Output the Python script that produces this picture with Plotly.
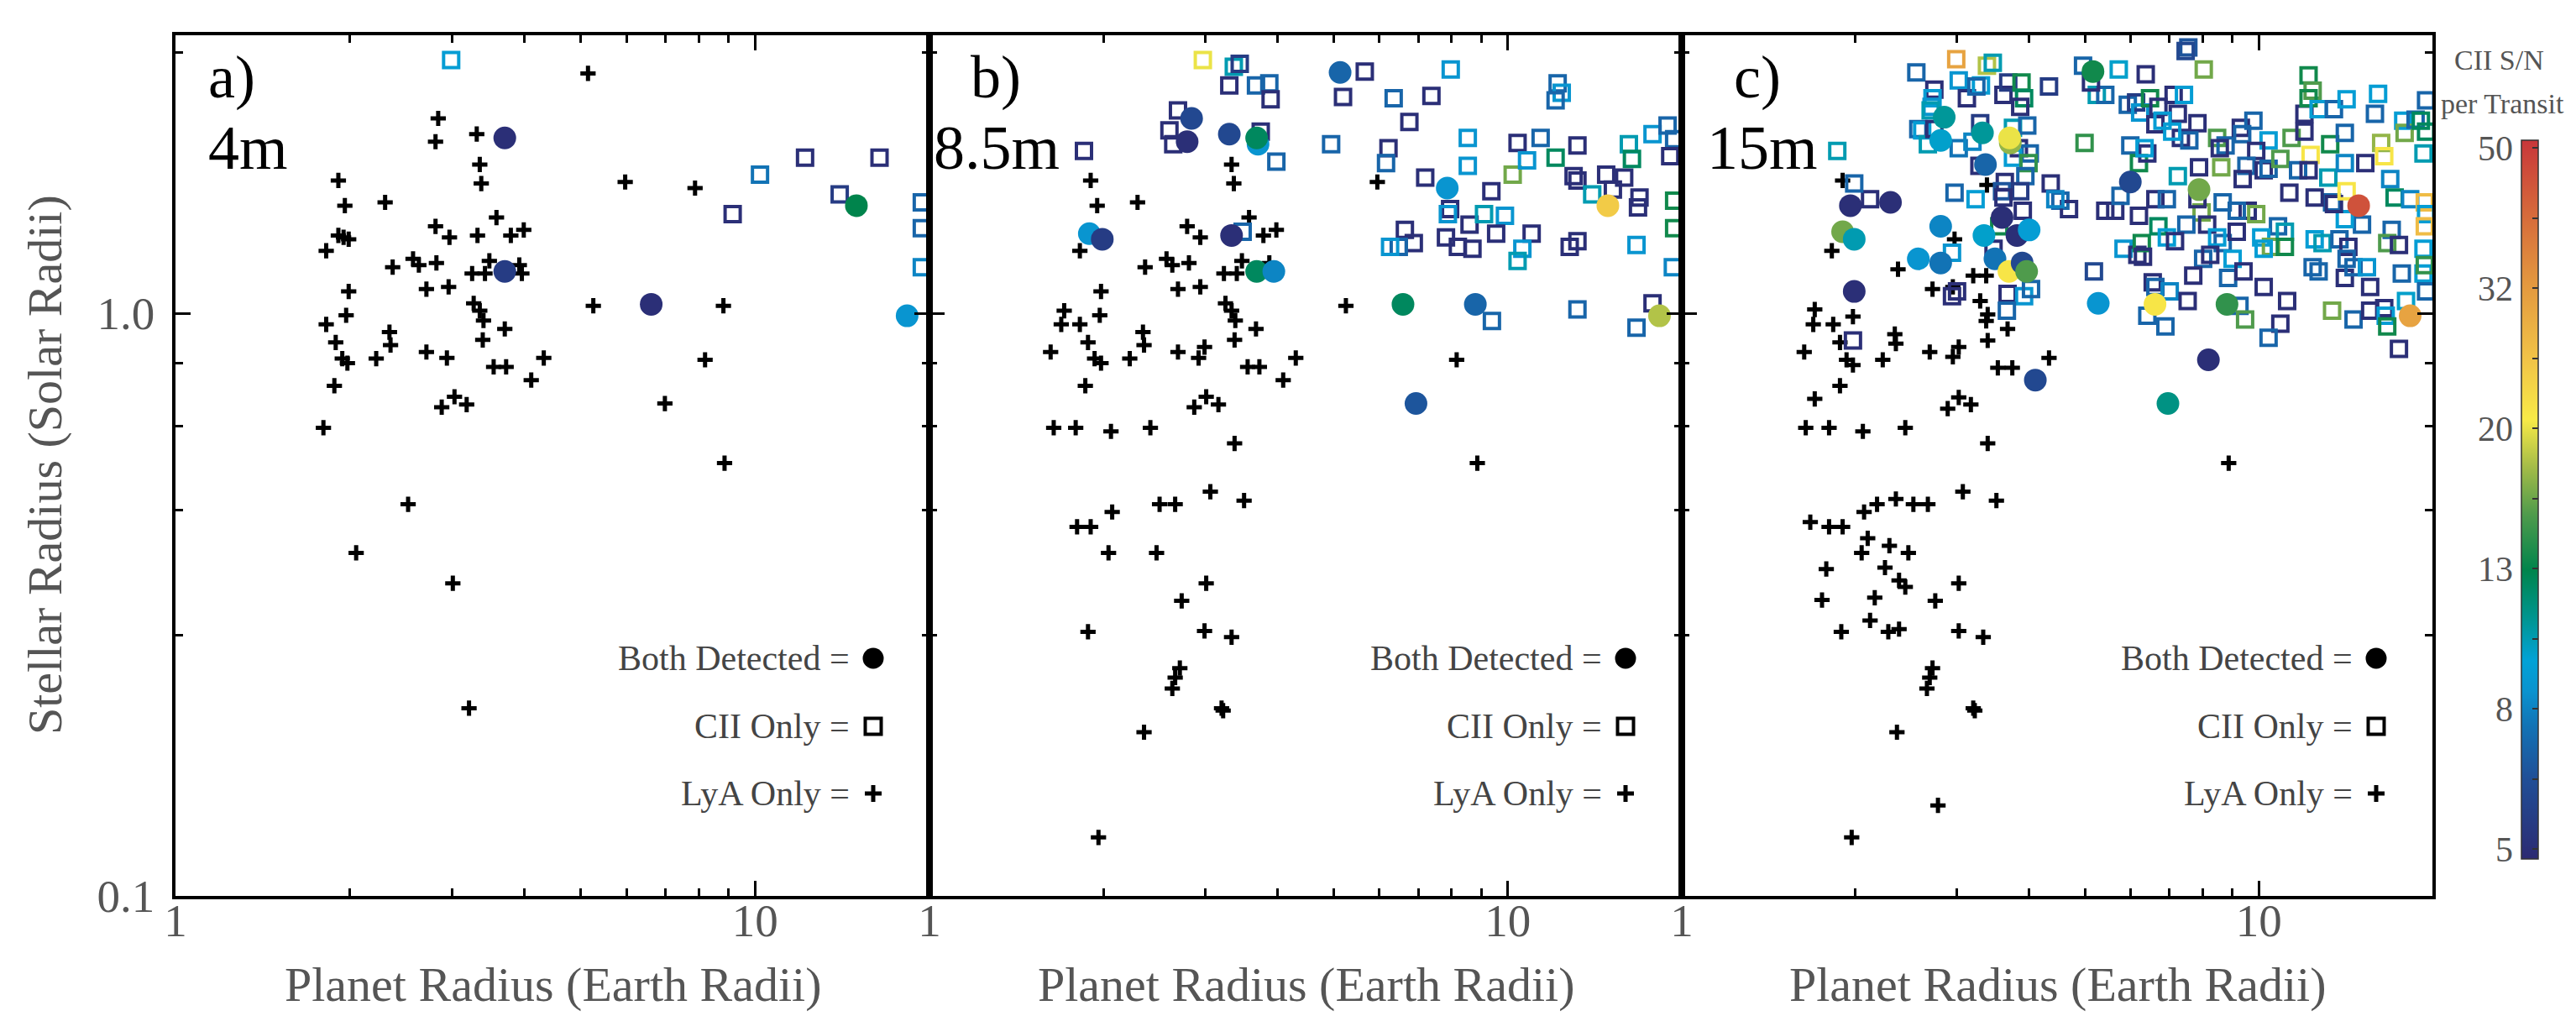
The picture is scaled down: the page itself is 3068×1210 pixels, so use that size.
import numpy as np
import plotly.graph_objects as go

# ---------------- panel a) 4m ----------------
a_both_x = [3.70, 3.70, 6.62, 14.96, 18.3]
a_both_y = [2.00, 1.18, 1.036, 1.53, 0.99]
a_both_sn = [5, 5.5, 5, 12.5, 8.5]

a_cii_x = [2.99, 9.15, 10.2, 12.2, 16.4, 14.0, 19.4, 19.4, 19.4]
a_cii_y = [2.72, 1.48, 1.73, 1.85, 1.85, 1.60, 1.55, 1.40, 1.20]
a_cii_sn = [9, 5, 7.5, 5, 5, 5.5, 7, 7, 8]

a_lya_x = [5.15, 2.84, 2.81, 3.31, 3.35, 3.37, 1.91, 1.96, 2.30, 5.97,
           7.88, 3.58, 2.81, 2.97, 3.32, 3.79, 3.99, 1.91, 1.95, 1.99,
           1.82, 2.57, 2.63, 2.82, 2.37, 3.48, 3.25, 3.42, 3.92, 3.96,
           1.99, 2.71, 2.96, 3.27, 3.35, 3.40, 1.97, 1.82, 3.70, 1.89,
           2.34, 2.35, 3.39, 1.94, 1.98, 2.22, 2.71, 2.94, 4.32, 3.54,
           3.72, 4.11, 1.88, 3.03, 2.88, 3.18, 8.20, 6.99, 5.26, 8.82,
           1.80, 8.86, 2.52, 2.05, 3.01, 3.21]
a_lya_y = [2.58, 2.16, 1.97, 2.03, 1.80, 1.67, 1.69, 1.53, 1.55, 1.68,
           1.64, 1.46, 1.41, 1.35, 1.36, 1.36, 1.39, 1.36, 1.35, 1.34,
           1.28, 1.24, 1.21, 1.22, 1.20, 1.23, 1.17, 1.17, 1.21, 1.17,
           1.09, 1.10, 1.11, 1.04, 1.01, 0.972, 0.992, 0.957, 0.940, 0.891,
           0.928, 0.882, 0.900, 0.836, 0.821, 0.836, 0.858, 0.838, 0.838, 0.809,
           0.809, 0.768, 0.751, 0.719, 0.690, 0.697, 0.832, 0.700, 1.03, 1.03,
           0.636, 0.553, 0.470, 0.388, 0.344, 0.210]

# ---------------- panel b) 8.5m ----------------
b_both_x = [5.13, 2.84, 2.79, 3.30, 3.70, 3.68, 1.89, 1.99, 3.33, 3.68,
            3.94, 7.86, 14.9, 6.59, 8.79, 6.94, 18.3]
b_both_y = [2.59, 2.16, 1.97, 2.03, 1.95, 2.00, 1.37, 1.34, 1.36, 1.18,
            1.18, 1.64, 1.53, 1.036, 1.036, 0.70, 0.99]
b_both_sn = [7, 6, 5, 6, 8.5, 12, 8.5, 5.5, 5, 12,
             8, 8.5, 24, 12, 7, 6.5, 18]

b_cii_x = [2.97, 3.36, 3.44, 3.30, 3.67, 3.87, 3.89, 2.69, 2.60, 2.64,
           3.74, 3.98, 1.85, 5.66, 5.19, 6.35, 7.38, 7.97, 6.76, 4.95,
           6.22, 6.16, 7.20, 8.53, 8.53, 9.37, 7.95, 7.88, 8.59, 7.82,
           8.20, 8.69, 6.64, 6.88, 6.48, 6.26, 9.10, 9.89, 9.55, 10.2,
           10.4, 10.8, 11.4, 12.1, 12.2, 12.4, 12.1, 13.2, 13.0, 13.2,
           14.0, 14.8, 15.2, 15.9, 16.9, 16.8, 16.2, 16.4, 17.8, 18.9,
           19.4, 19.1, 19.4, 19.4, 19.3, 11.0, 10.6, 10.4, 12.8, 13.2,
           16.7, 13.2, 9.39, 16.7, 17.8, 3.48]
b_cii_y = [2.72, 2.65, 2.68, 2.46, 2.46, 2.48, 2.33, 2.23, 2.06, 1.95,
           2.05, 1.82, 1.90, 2.60, 2.35, 2.34, 2.36, 2.62, 2.13, 1.95,
           1.92, 1.81, 1.71, 2.00, 1.79, 1.62, 1.51, 1.48, 1.42, 1.35,
           1.30, 1.29, 1.39, 1.32, 1.30, 1.30, 1.48, 1.47, 1.37, 1.73,
           1.96, 1.83, 2.00, 1.85, 2.48, 2.39, 2.32, 1.94, 1.72, 1.69,
           1.60, 1.73, 1.63, 1.71, 1.58, 1.52, 1.95, 1.84, 2.03, 2.10,
           1.99, 1.86, 1.56, 1.40, 1.20, 1.37, 1.29, 1.23, 1.30, 1.33,
           1.31, 1.015, 0.970, 0.945, 1.04, 1.38]
b_cii_sn = [20, 10, 5.5, 5, 7, 7, 5, 5, 5, 5,
            5, 7, 5, 5, 5, 7, 5, 8.5, 5, 7,
            5, 7, 5, 8.5, 8.5, 5, 5, 8.5, 5, 5,
            5, 5, 5, 5, 7, 8.5, 10, 8.5, 5, 16,
            5, 8.5, 7, 12, 7, 8.5, 7, 5, 5, 5,
            10, 5, 5, 5, 5, 5, 10, 12, 8.5, 7,
            7, 5, 13, 13, 8, 5, 8.5, 10, 5, 5,
            8.5, 7, 7, 7, 5, 7]

b_lya_x = [3.33, 3.36, 1.90, 1.95, 2.29, 5.95, 3.57, 2.79, 2.94, 3.78,
           3.98, 1.82, 2.57, 2.63, 2.81, 2.36, 3.47, 3.23, 3.40, 1.98,
           2.69, 2.94, 3.25, 3.33, 3.38, 1.97, 1.71, 1.69, 1.82, 3.67,
           1.88, 2.34, 2.35, 3.37, 1.62, 1.93, 1.98, 2.22, 2.69, 2.92,
           2.99, 4.30, 3.55, 3.72, 4.09, 1.86, 3.01, 2.87, 3.16, 8.16,
           5.25, 1.64, 1.79, 2.06, 2.41, 3.37, 8.86, 3.06, 2.50, 2.66,
           3.50, 2.07, 1.80, 1.90, 2.04, 2.47, 3.01, 2.73, 1.88, 2.99,
           3.33, 2.71, 2.66, 2.63, 3.20, 3.22, 2.35, 1.96, 3.87]
b_lya_y = [1.80, 1.67, 1.69, 1.53, 1.55, 1.68, 1.46, 1.41, 1.35, 1.36,
           1.39, 1.28, 1.24, 1.21, 1.22, 1.20, 1.23, 1.17, 1.17, 1.09,
           1.10, 1.11, 1.04, 1.01, 0.972, 0.992, 1.01, 0.957, 0.957, 0.940,
           0.891, 0.928, 0.882, 0.900, 0.858, 0.836, 0.821, 0.836, 0.858, 0.838,
           0.875, 0.838, 0.809, 0.809, 0.768, 0.751, 0.719, 0.690, 0.697, 0.832,
           1.03, 0.636, 0.636, 0.627, 0.636, 0.598, 0.553, 0.494, 0.470, 0.470,
           0.477, 0.456, 0.430, 0.430, 0.388, 0.388, 0.344, 0.321, 0.284, 0.285,
           0.278, 0.246, 0.237, 0.227, 0.210, 0.208, 0.191, 0.126, 1.22]

# ---------------- panel c) 15m ----------------
c_both_x = [5.16, 2.85, 2.81, 3.32, 3.71, 3.70, 3.36, 1.96, 2.30, 1.90,
            1.99, 2.81, 3.34, 3.59, 3.81, 4.00, 2.57, 2.81, 3.49, 3.69,
            3.89, 3.96, 1.99, 5.99, 5.27, 7.88, 14.9, 18.3, 8.81, 6.61,
            8.18, 6.96, 4.10]
c_both_y = [2.60, 2.17, 1.98, 2.04, 1.96, 2.00, 1.80, 1.53, 1.55, 1.38,
            1.34, 1.41, 1.36, 1.46, 1.36, 1.39, 1.24, 1.22, 1.24, 1.18,
            1.22, 1.18, 1.09, 1.68, 1.04, 1.63, 1.53, 0.99, 1.036, 1.036,
            0.832, 0.70, 0.768]
c_both_sn = [13, 10.5, 9.5, 10.5, 17, 20, 7, 5, 5, 16,
             10, 8, 9.5, 5, 5, 9, 8.5, 7.5, 7.5, 21,
             6, 15, 5, 6, 8.5, 16, 45, 30, 14, 21,
             5, 11, 6]

c_cii_x = [2.99, 3.38, 3.46, 2.55, 3.02, 2.74, 2.72, 2.71, 2.70, 3.12,
           3.30, 3.24, 3.61, 3.68, 3.88, 3.92, 3.86, 4.33, 2.57, 2.61,
           2.67, 2.74, 3.02, 3.19, 3.29, 3.75, 3.97, 3.84, 4.01, 3.75,
           3.99, 3.28, 3.94, 3.63, 3.59, 3.86, 2.97, 3.23, 3.61, 4.36,
           4.53, 4.69, 4.44, 3.90, 2.12, 1.99, 1.86, 4.99, 4.96, 5.24,
           5.42, 5.72, 5.93, 6.13, 6.23, 5.99, 6.20, 5.42, 5.64, 5.76,
           6.20, 5.83, 6.16, 6.27, 5.18, 2.94, 3.47, 3.00, 2.94, 3.67,
           3.92, 4.03, 3.55, 5.12, 1.98, 3.66,
           7.55, 7.47, 8.03, 6.37, 6.48, 6.70, 7.12, 7.42, 7.24, 6.62,
           6.81, 7.83, 7.33, 7.58, 7.08, 6.41, 6.34, 7.24, 7.88, 8.61,
           8.47, 8.76, 8.56, 9.31, 9.79, 9.36, 10.4, 9.90, 9.52, 10.2,
           10.4, 10.9, 9.38, 11.4, 12.0, 12.0, 12.2, 12.4, 12.2, 12.7,
           13.5, 14.2, 13.3, 12.3, 14.1, 11.7, 12.2, 13.2, 14.1, 15.3,
           16.1, 15.9, 16.3, 16.5, 17.8, 17.9, 18.7, 19.1, 19.5, 19.5,
           19.3, 16.9, 17.2, 18.3, 19.4, 19.5, 19.4, 17.0, 16.7, 17.5,
           19.3, 15.1, 14.1, 13.4, 13.5, 14.2, 12.5, 11.3, 10.8, 11.1,
           10.1, 10.5, 11.1, 12.5, 12.9, 13.8, 14.3, 9.57, 9.16, 9.90,
           8.66, 7.96, 8.14, 6.70, 6.93, 7.49, 7.16, 6.62, 6.93, 7.83,
           8.66, 9.16, 10.2, 8.47,
           6.30, 8.01, 8.24, 9.01, 7.70, 8.85, 9.41, 6.55, 6.62, 7.01,
           7.53, 10.2, 11.2, 9.26, 9.47, 6.41, 6.89, 10.9, 10.4, 12.4,
           12.7, 14.1, 14.2, 14.6, 15.4, 15.6, 13.4, 14.6, 15.6, 16.5,
           16.6, 18.0, 16.7, 17.5, 17.7, 19.3, 19.5, 19.4]
c_cii_y = [2.73, 2.66, 2.69, 2.59, 2.51, 2.42, 2.34, 2.26, 2.23, 2.34,
           2.46, 2.45, 2.37, 2.49, 2.49, 2.34, 2.26, 2.45, 2.07, 2.06,
           1.95, 2.07, 1.92, 1.97, 2.12, 2.08, 2.10, 1.92, 1.88, 1.85,
           1.81, 1.79, 1.72, 1.68, 1.62, 1.62, 1.61, 1.57, 1.58, 1.67,
           1.56, 1.51, 1.57, 1.50, 1.57, 1.67, 1.90, 1.96, 2.66, 2.37,
           2.37, 2.62, 2.28, 2.30, 2.21, 1.94, 1.81, 1.50, 1.50, 1.59,
           1.47, 1.29, 1.26, 1.32, 1.18, 1.27, 1.29, 1.09, 1.07, 1.08,
           1.07, 1.10, 1.41, 2.49, 0.898, 1.01,
           2.86, 2.82, 2.62, 2.57, 2.34, 2.26, 2.37, 2.37, 2.20, 2.11,
           2.14, 2.12, 2.00, 1.98, 2.05, 1.88, 1.92, 1.72, 1.78, 1.78,
           2.00, 1.94, 1.92, 2.08, 2.14, 2.03, 1.98, 1.90, 1.79, 1.76,
           1.77, 1.84, 1.70, 2.00, 2.05, 2.20, 2.56, 2.41, 2.34, 2.24,
           2.24, 2.33, 1.95, 1.87, 2.04, 1.76, 1.76, 1.71, 1.81, 1.81,
           2.38, 2.20, 1.96, 1.86, 2.14, 2.04, 2.15, 2.14, 2.05, 2.32,
           1.88, 1.70, 1.58, 1.57, 1.55, 1.48, 1.41, 1.39, 1.32, 1.31,
           1.29, 1.42, 1.45, 1.55, 1.54, 1.62, 1.58, 1.61, 1.41, 1.38,
           1.35, 1.30, 1.30, 1.34, 1.32, 1.34, 1.30, 1.50, 1.50, 1.48,
           1.55, 1.49, 1.42, 1.41, 1.35, 1.42, 1.33, 1.57, 1.57, 1.57,
           1.32, 1.38, 1.29, 1.35,
           1.25, 1.24, 1.26, 1.24, 1.16, 1.15, 1.18, 1.13, 1.11, 1.09,
           1.05, 1.11, 1.05, 1.03, 0.976, 0.99, 0.949, 0.960, 0.908, 1.20,
           1.18, 1.15, 1.24, 1.20, 1.20, 1.11, 1.01, 0.976, 1.01, 1.02,
           0.99, 1.05, 0.949, 0.869, 1.17, 1.17, 1.09, 1.21]
c_cii_sn = [30, 18, 10, 7, 8.5, 5, 9, 8.5, 10, 5,
            9, 7, 5, 5.5, 13, 12, 5, 5.5, 7, 9,
            10, 5, 7.5, 8, 5.5, 10, 7, 5, 7, 9,
            14, 5, 7, 5, 6.5, 5.5, 7, 9, 5, 5,
            7, 5, 8, 5, 5, 7, 10, 14, 7, 10,
            7, 9.5, 7, 5.5, 8.5, 7, 13, 5, 5, 7,
            5, 8.5, 5, 13, 6, 8.5, 5, 5, 5, 5,
            8.5, 7, 13, 5, 5, 7,
            6.5, 6, 16, 5, 13, 5, 5, 9, 5, 5,
            9, 5, 5, 7, 9, 5, 9, 10, 5, 16,
            15, 7, 5, 5, 7, 7, 9, 5, 7, 5,
            7, 15, 5, 15, 5, 5, 13, 15, 13, 9,
            7, 9, 13, 21, 7, 7, 5, 10, 8, 5,
            9, 7, 17, 21, 9, 16, 7, 12, 12, 7,
            10, 8, 12, 8, 26, 9, 26, 7, 15, 5,
            9, 7, 9, 7, 5, 21, 5, 5, 7, 10,
            9, 16, 13, 9, 10, 7, 5, 5, 7, 16,
            7, 16, 5, 12, 9, 7, 5, 5, 7, 5,
            7, 5, 9, 9,
            5, 7, 5, 9, 5, 7, 5, 5, 7, 8,
            5, 5, 5, 7, 15, 7, 7, 5, 7, 7,
            7, 5, 7, 7, 8.5, 5, 16, 7, 5, 5,
            9, 9.5, 13, 5, 7, 9, 7, 14]

c_lya_x = [1.90, 1.82, 2.37, 2.97, 3.38, 3.20, 3.37, 2.72, 2.95, 3.29,
           3.39, 3.37, 1.70, 1.98, 1.69, 1.83, 2.34, 2.35, 1.88, 1.63,
           1.93, 1.98, 2.23, 2.69, 2.95, 3.02, 3.39, 3.67, 3.53, 3.74,
           4.33, 1.70, 1.88, 2.89, 3.02, 3.17, 1.64, 1.80, 2.06, 2.44,
           3.39, 8.87, 3.07, 3.51, 2.18, 2.35, 2.52, 2.67, 2.07, 1.67,
           1.80, 1.90, 2.10, 2.05, 2.29, 2.47, 1.78, 2.25, 2.38, 2.44,
           1.75, 2.16, 2.75, 3.02, 1.89, 2.12, 2.28, 2.38, 3.02, 3.33,
           2.72, 2.69, 2.66, 3.20, 3.22, 2.36, 2.78, 1.97]
c_lya_y = [1.69, 1.28, 1.19, 1.34, 1.66, 1.16, 1.16, 1.10, 1.11, 1.05,
           0.995, 0.97, 1.015, 0.987, 0.957, 0.957, 0.921, 0.887, 0.891, 0.858,
           0.832, 0.815, 0.832, 0.858, 0.842, 0.875, 0.898, 0.940, 0.806, 0.806,
           0.838, 0.713, 0.751, 0.686, 0.717, 0.697, 0.636, 0.636, 0.627, 0.636,
           0.598, 0.553, 0.494, 0.477, 0.470, 0.480, 0.470, 0.470, 0.456, 0.438,
           0.430, 0.430, 0.411, 0.388, 0.399, 0.388, 0.364, 0.366, 0.348, 0.339,
           0.322, 0.325, 0.321, 0.344, 0.284, 0.297, 0.284, 0.287, 0.285, 0.278,
           0.246, 0.237, 0.227, 0.210, 0.208, 0.191, 0.143, 0.126]

panel_labels = ["a)", "b)", "c)"]
aperture_labels = ["4m", "8.5m", "15m"]
legend_labels = ["Both Detected =", "CII Only =", "LyA Only ="]
x_ticks = [1, 10]
x_minor = [2, 3, 4, 5, 6, 7, 8, 9]
y_ticks = [0.1, 1.0]
y_ticktext = ["0.1", "1.0"]
y_minor = [0.28, 0.46, 0.64, 0.82, 2.8]
cbar_labels = ["5", "8", "13", "20", "32", "50"]

W, H = 3068, 1210
FONT = "Liberation Serif"
GREY = "#555555"
CMIN, CMAX = 0.685, 1.71

# colour table (S/N value, colour), placed on log S/N like the colour bar
cs_stops = [(4.85, "#2c2a72"), (6.3, "#204f97"), (7.5, "#1273b5"), (8.4, "#0a93cf"),
            (9.3, "#02a2d6"), (10.7, "#00958f"), (12.5, "#00844c"), (15.0, "#4f9b4c"),
            (17.5, "#a3bb48"), (20.5, "#f8ea47"), (25.0, "#f1c347"), (32.0, "#e3983f"),
            (40.0, "#d66b3b"), (51.3, "#c8373a")]
colorscale = []
for v, c in cs_stops:
    p = (np.log10(v) - CMIN) / (CMAX - CMIN)
    colorscale.append([float(min(max(p, 0), 1)), c])
colorscale[0][0] = 0.0
colorscale[-1][0] = 1.0

# panel frames in pixels
x_px = [(201, 1099), (1099, 1995), (1995, 2889)]
y_top, y_bot = 34, 1059
y_dom = [1 - y_bot / H, 1 - y_top / H]

panels = [
    (a_lya_x, a_lya_y, a_cii_x, a_cii_y, a_cii_sn, a_both_x, a_both_y, a_both_sn),
    (b_lya_x, b_lya_y, b_cii_x, b_cii_y, b_cii_sn, b_both_x, b_both_y, b_both_sn),
    (c_lya_x, c_lya_y, c_cii_x, c_cii_y, c_cii_sn, c_both_x, c_both_y, c_both_sn),
]
label_left = [(238, 238), (1146, 1102), (2055, 2023)]

fig = go.Figure()
shapes = []
annotations = []

for i, (lx, ly, qx, qy, qs, bx, by, bs) in enumerate(panels):
    xa = "x" if i == 0 else "x%d" % (i + 1)
    ya = "y" if i == 0 else "y%d" % (i + 1)
    fig.add_trace(go.Scatter(
        x=lx, y=ly, mode="markers", xaxis=xa, yaxis=ya, showlegend=False,
        marker=dict(symbol="cross-thin", size=13, color="black",
                    line=dict(width=5, color="black"))))
    fig.add_trace(go.Scatter(
        x=qx, y=qy, mode="markers", xaxis=xa, yaxis=ya, showlegend=False,
        marker=dict(symbol="square-open", size=18, color=np.log10(qs),
                    coloraxis="coloraxis", line=dict(width=4))))
    fig.add_trace(go.Scatter(
        x=bx, y=by, mode="markers", xaxis=xa, yaxis=ya, showlegend=False,
        marker=dict(symbol="circle", size=27, color=np.log10(bs),
                    coloraxis="coloraxis", line=dict(width=0))))

    x0, x1 = x_px[i]
    pw = x1 - x0
    ph = y_bot - y_top
    axis_common = dict(
        type="log", showgrid=False, zeroline=False, automargin=False,
        showline=True, linewidth=3.5, linecolor="black", mirror="ticks",
        ticks="inside", ticklen=18, tickwidth=3, tickcolor="black",
        tickfont=dict(family=FONT, size=55, color=GREY),
    )
    fig.update_layout(**{
        ("xaxis" if i == 0 else "xaxis%d" % (i + 1)): dict(
            axis_common, domain=[x0 / W, x1 / W], range=[0, np.log10(20)],
            anchor=ya, tickvals=x_ticks, ticktext=["1", "10"],
            ticklabelstandoff=-22,
            minor=dict(tickvals=x_minor, ticks="inside", ticklen=9,
                       tickwidth=3, tickcolor="black", showgrid=False)),
        ("yaxis" if i == 0 else "yaxis%d" % (i + 1)): dict(
            axis_common, domain=y_dom, range=[-1, np.log10(3)],
            anchor=xa, tickvals=y_ticks, ticktext=y_ticktext,
            showticklabels=(i == 0), ticklabelstandoff=10,
            minor=dict(tickvals=y_minor, ticks="inside", ticklen=9,
                       tickwidth=3, tickcolor="black", showgrid=False)),
    })

    # x axis title
    annotations.append(dict(
        text="Planet Radius (Earth Radii)", xref="paper", yref="paper",
        x=(x0 + x1) / 2 / W, y=1 - 1164 / H, showarrow=False,
        xanchor="center", yanchor="middle",
        font=dict(family=FONT, size=58, color=GREY)))

    # panel letter and aperture
    lx0, lx1 = label_left[i]
    annotations.append(dict(
        text=panel_labels[i], xref="paper", yref="paper", x=lx0 / W,
        y=1 - 84 / H, showarrow=False, xanchor="left", yanchor="middle",
        font=dict(family=FONT, size=72, color="black")))
    annotations.append(dict(
        text=aperture_labels[i], xref="paper", yref="paper", x=lx1 / W,
        y=1 - 168 / H, showarrow=False, xanchor="left", yanchor="middle",
        font=dict(family=FONT, size=74, color="black")))

    # legend block: text + symbol
    sx = 1 - 67 / pw
    tx = sx - 26 / pw
    rows = [(1059 - 776) / ph, (1059 - 857) / ph, (1059 - 937) / ph]
    xd, yd = xa + " domain", ya + " domain"
    for txt, ry in zip(legend_labels, rows):
        annotations.append(dict(
            text=txt, xref=xd, yref=yd, x=tx, y=ry, showarrow=False,
            xanchor="right", yanchor="middle",
            font=dict(family=FONT, size=42, color="#444444")))
    r = 12.5
    shapes.append(dict(type="circle", xref=xd, yref=yd,
                       x0=sx - r / pw, x1=sx + r / pw,
                       y0=rows[0] - r / ph, y1=rows[0] + r / ph,
                       fillcolor="black", line=dict(width=0)))
    s = 9.5
    shapes.append(dict(type="rect", xref=xd, yref=yd,
                       x0=sx - s / pw, x1=sx + s / pw,
                       y0=rows[1] - s / ph, y1=rows[1] + s / ph,
                       line=dict(width=4, color="black")))
    c = 10
    shapes.append(dict(type="line", xref=xd, yref=yd,
                       x0=sx - c / pw, x1=sx + c / pw, y0=rows[2], y1=rows[2],
                       line=dict(width=5, color="black")))
    shapes.append(dict(type="line", xref=xd, yref=yd,
                       x0=sx, x1=sx, y0=rows[2] - c / ph, y1=rows[2] + c / ph,
                       line=dict(width=5, color="black")))

# y axis title
annotations.append(dict(
    text="Stellar Radius (Solar Radii)", xref="paper", yref="paper",
    x=46 / W, y=1 - 546 / H, showarrow=False, textangle=-90,
    xanchor="center", yanchor="middle",
    font=dict(family=FONT, size=58, color=GREY)))

# colour bar title
annotations.append(dict(text="CII S/N", xref="paper", yref="paper",
                        x=2968 / W, y=1 - 64 / H, showarrow=False,
                        xanchor="center", yanchor="middle",
                        font=dict(family=FONT, size=34, color=GREY)))
annotations.append(dict(text="per Transit", xref="paper", yref="paper",
                        x=2972 / W, y=1 - 116 / H, showarrow=False,
                        xanchor="center", yanchor="middle",
                        font=dict(family=FONT, size=34, color=GREY)))

cb_top, cb_bot = 159, 1015
cb_minor = list(np.log10(5) + 0.1 * np.arange(11))
cb_major = list(np.log10(5) + 0.2 * np.arange(len(cbar_labels)))

# axis used only to write the colour bar labels on its left side
fig.add_trace(go.Scatter(x=[None], y=[None], xaxis="x3", yaxis="y4",
                         showlegend=False, hoverinfo="skip"))

fig.update_layout(
    width=W, height=H,
    margin=dict(l=0, r=0, t=0, b=0),
    paper_bgcolor="white", plot_bgcolor="rgba(0,0,0,0)",
    showlegend=False,
    coloraxis=dict(
        colorscale=colorscale, cmin=CMIN, cmax=CMAX,
        colorbar=dict(
            x=2995 / W, xanchor="left", xpad=0, ypad=0,
            y=1 - (cb_top + cb_bot) / 2 / H, yanchor="middle",
            len=(cb_bot - cb_top) / H, lenmode="fraction",
            thickness=20, thicknessmode="pixels",
            outlinewidth=1.5, outlinecolor="#333333",
            tickvals=cb_minor, ticks="inside", ticklen=7, tickwidth=1.5,
            tickcolor="#333333", showticklabels=False)),
    yaxis4=dict(
        domain=[1 - cb_bot / H, 1 - cb_top / H], range=[CMIN, CMAX],
        anchor="free", position=2993 / W, side="left", automargin=False,
        showline=False, showgrid=False, zeroline=False, ticks="",
        tickvals=cb_major, ticktext=cbar_labels, ticklabelstandoff=8,
        tickfont=dict(family=FONT, size=42, color=GREY)),
    shapes=shapes,
    annotations=annotations,
)

fig.write_html("out.html")
